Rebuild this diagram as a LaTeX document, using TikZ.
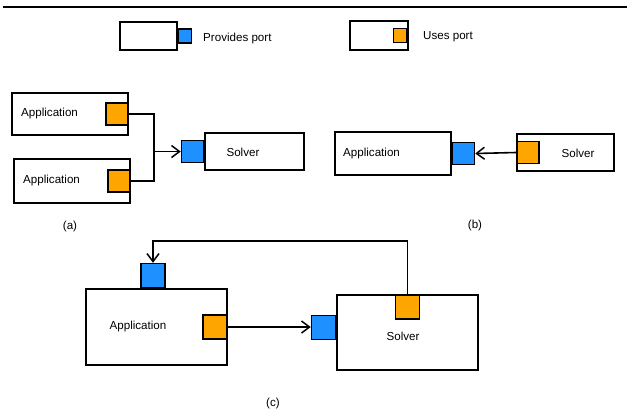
\documentclass[tikz,border=0pt]{standalone}
\usepackage{fontspec}
\setmainfont{Liberation Sans}
\usetikzlibrary{arrows.meta}
\definecolor{provblue}{RGB}{30,144,255}
\definecolor{useorange}{RGB}{255,165,0}

\begin{document}
\begin{tikzpicture}
 [
  x=1pt, y=-1pt,
  >={Straight Barb[length=8pt,width=12pt,line width=1.5pt]},
  box/.style   = {draw, line width=1.5pt, fill=white, inner sep=0pt},
  pport/.style = {draw, line width=1.5pt, fill=provblue, inner sep=0pt, minimum size=22pt},
  uport/.style = {draw, line width=1.5pt, fill=useorange, inner sep=0pt, minimum size=22pt},
  small/.style = {minimum width=13pt, minimum height=14pt},
  txt/.style   = {font=\fontsize{11.6}{14}\selectfont, inner sep=0pt},
  wire/.style  = {line width=1.6pt},
 ]
 \useasboundingbox (0,0) rectangle (627,413);
 \draw[line width=2pt] (3,7) -- (627,7);

 % legend
 \node[box, minimum width=57pt, minimum height=28pt] (lp) at (148.5,36) {};
 \node[pport, small, anchor=west] (lpp) at (lp.east) {};
 \node[txt, anchor=west] (lptxt) at (203,38) {Provides port};
 \node[box, minimum width=58pt, minimum height=29pt] (lu) at (379,35.5) {};
 \node[uport, small, anchor=east] (luu) at ([xshift=-1.5pt]lu.east) {};
 \node[txt, anchor=west] (lutxt) at (423,37) {Uses port};

 % (a)
 \node[box, minimum width=116pt, minimum height=42pt] (a1) at (70,114) {};
 \node[uport, anchor=east] (a1u) at (a1.east) {};
 \node[txt, anchor=west] (a1txt) at (21,113) {Application};
 \node[box, minimum width=116pt, minimum height=44pt] (a2) at (72,181) {};
 \node[uport, anchor=east] (a2u) at (a2.east) {};
 \node[txt, anchor=west] (a2txt) at (23,180) {Application};
 \node[box, minimum width=99pt, minimum height=37pt] (as) at (254.5,151.5) {};
 \node[pport, anchor=east] (asp) at (as.west) {};
 \node[txt] (astxt) at (243,152) {Solver};
 \coordinate (ja) at ([xshift=-27pt]asp.west);
 \draw[wire] (a1u.east) -| (ja);
 \draw[wire] (a2u.east) -| (ja);
 \draw[wire, ->] (ja) -- (asp.west);
 \node[txt] (alab) at (70,226) {(a)};

 % (b)
 \node[box, minimum width=116pt, minimum height=43pt] (bp) at (393,153.5) {};
 \node[pport, anchor=west] (bpp) at (bp.east) {};
 \node[txt, anchor=west] (bptxt) at (343,153) {Application};
 \node[box, minimum width=97pt, minimum height=37pt] (bs) at (565.5,152.5) {};
 \node[uport, anchor=west] (bsu) at (bs.west) {};
 \node[txt] (bstxt) at (578,153) {Solver};
 \draw[wire, ->] (bsu.west) -- (bpp.east);
 \node[txt] (blab) at (475,225) {(b)};

 % (c)
 \node[box, minimum width=141pt, minimum height=76pt] (cp) at (156.5,327) {};
 \node[pport, minimum size=24pt, anchor=south] (cpp) at ([xshift=-3.5pt]cp.north) {};
 \node[uport, minimum size=24pt, anchor=east] (cpu) at (cp.east) {};
 \node[txt] (cptxt) at (138,326) {Application};
 \node[box, minimum width=141pt, minimum height=75pt] (cs) at (407.5,332.5) {};
 \node[pport, minimum size=24pt, anchor=east] (csp) at ([yshift=5pt]cs.west) {};
 \node[uport, minimum size=24pt, anchor=north] (csu) at (cs.north) {};
 \node[txt] (cstxt) at (403,336) {Solver};
 \draw[wire, ->] (cpu.east) -- (cpu.east -| csp.west);
 \draw[wire, ->] (csu.north) |- ([yshift=22pt]cpp.north) -- (cpp.north);
 \node[txt] (clab) at (273,403) {(c)};
\end{tikzpicture}
\end{document}
